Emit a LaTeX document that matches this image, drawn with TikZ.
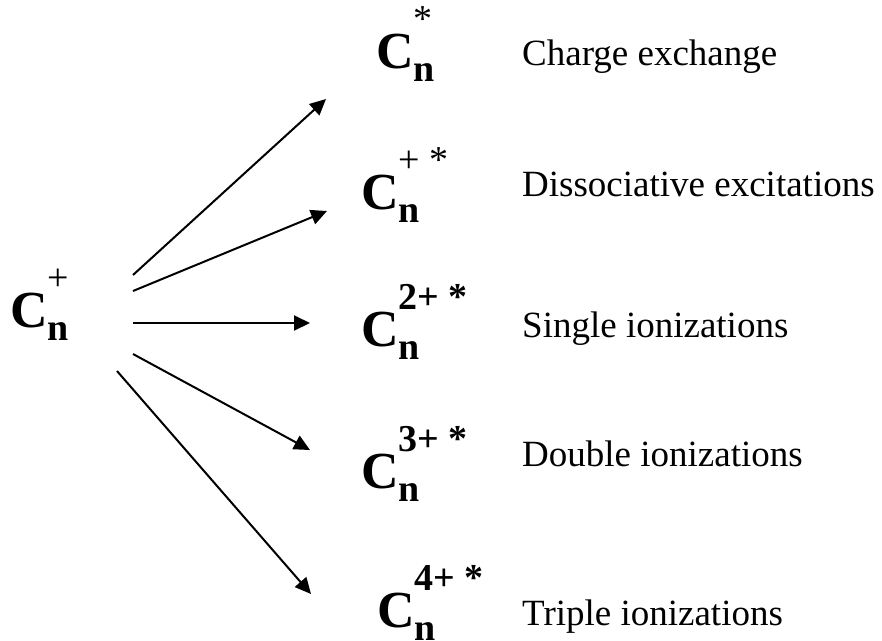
\documentclass[tikz,border=0pt]{standalone}
\usepackage{fontspec}
\setmainfont{Liberation Serif}
\usetikzlibrary{arrows.meta,positioning}
\newcommand{\cion}[1]{{\fontsize{52}{52}\selectfont\bfseries C}{\fontsize{38}{38}\selectfont\rlap{\raisebox{-13pt}{\bfseries n}}\raisebox{37pt}{#1}}}

\begin{document}
\begin{tikzpicture}[x=1pt,y=-1pt,ion/.style={inner sep=0pt,anchor=base west},desc/.style={inner sep=0pt,anchor=base west,font=\fontsize{37}{37}\selectfont},arr/.style={line width=2pt,-{Triangle[length=16pt,width=15pt]}}] %
    \useasboundingbox (0,0) rectangle (882,640);
    \node[ion] (cn) at (10,327) {\cion{+}} ; %
    \node[ion] (cex) at (376,68) {\cion{*}} ; %
    \node[ion] (cdis) at (361,209) {\cion{+ *}} ; %
    \node[ion] (csi) at (361,346) {\cion{\bfseries 2+ *}} ; %
    \node[ion] (cdi) at (361,488) {\cion{\bfseries 3+ *}} ; %
    \node[ion] (cti) at (377,627) {\cion{\bfseries 4+ *}} ; %
    \node[desc] (lex) at (522,65) {Charge exchange} ; %
    \node[desc] (ldis) at (522,196) {Dissociative excitations} ;
    \node[desc] (lsi) at (522,337) {Single ionizations} ;
    \node[desc] (ldi) at (522,466) {Double ionizations} ;
    \node[desc] (lti) at (522,625) {Triple ionizations} ;
    \coordinate (out1) at (133,275) ; %
    \coordinate (out2) at (133,291) ;
    \coordinate (out3) at (133,323) ;
    \coordinate (out4) at (133,354) ;
    \coordinate (out5) at (117,371) ;
    \coordinate (in1) at (326,99) ; %
    \coordinate (in2) at (327,211) ;
    \coordinate (in3) at (310,323) ;
    \coordinate (in4) at (310,450) ;
    \coordinate (in5) at (311,594) ;
    \draw[arr] (out1)--(in1) ; %
    \draw[arr] (out2)--(in2) ;
    \draw[arr] (out3)--(in3) ;
    \draw[arr] (out4)--(in4) ;
    \draw[arr] (out5)--(in5) ;
  \end{tikzpicture}
\end{document}
